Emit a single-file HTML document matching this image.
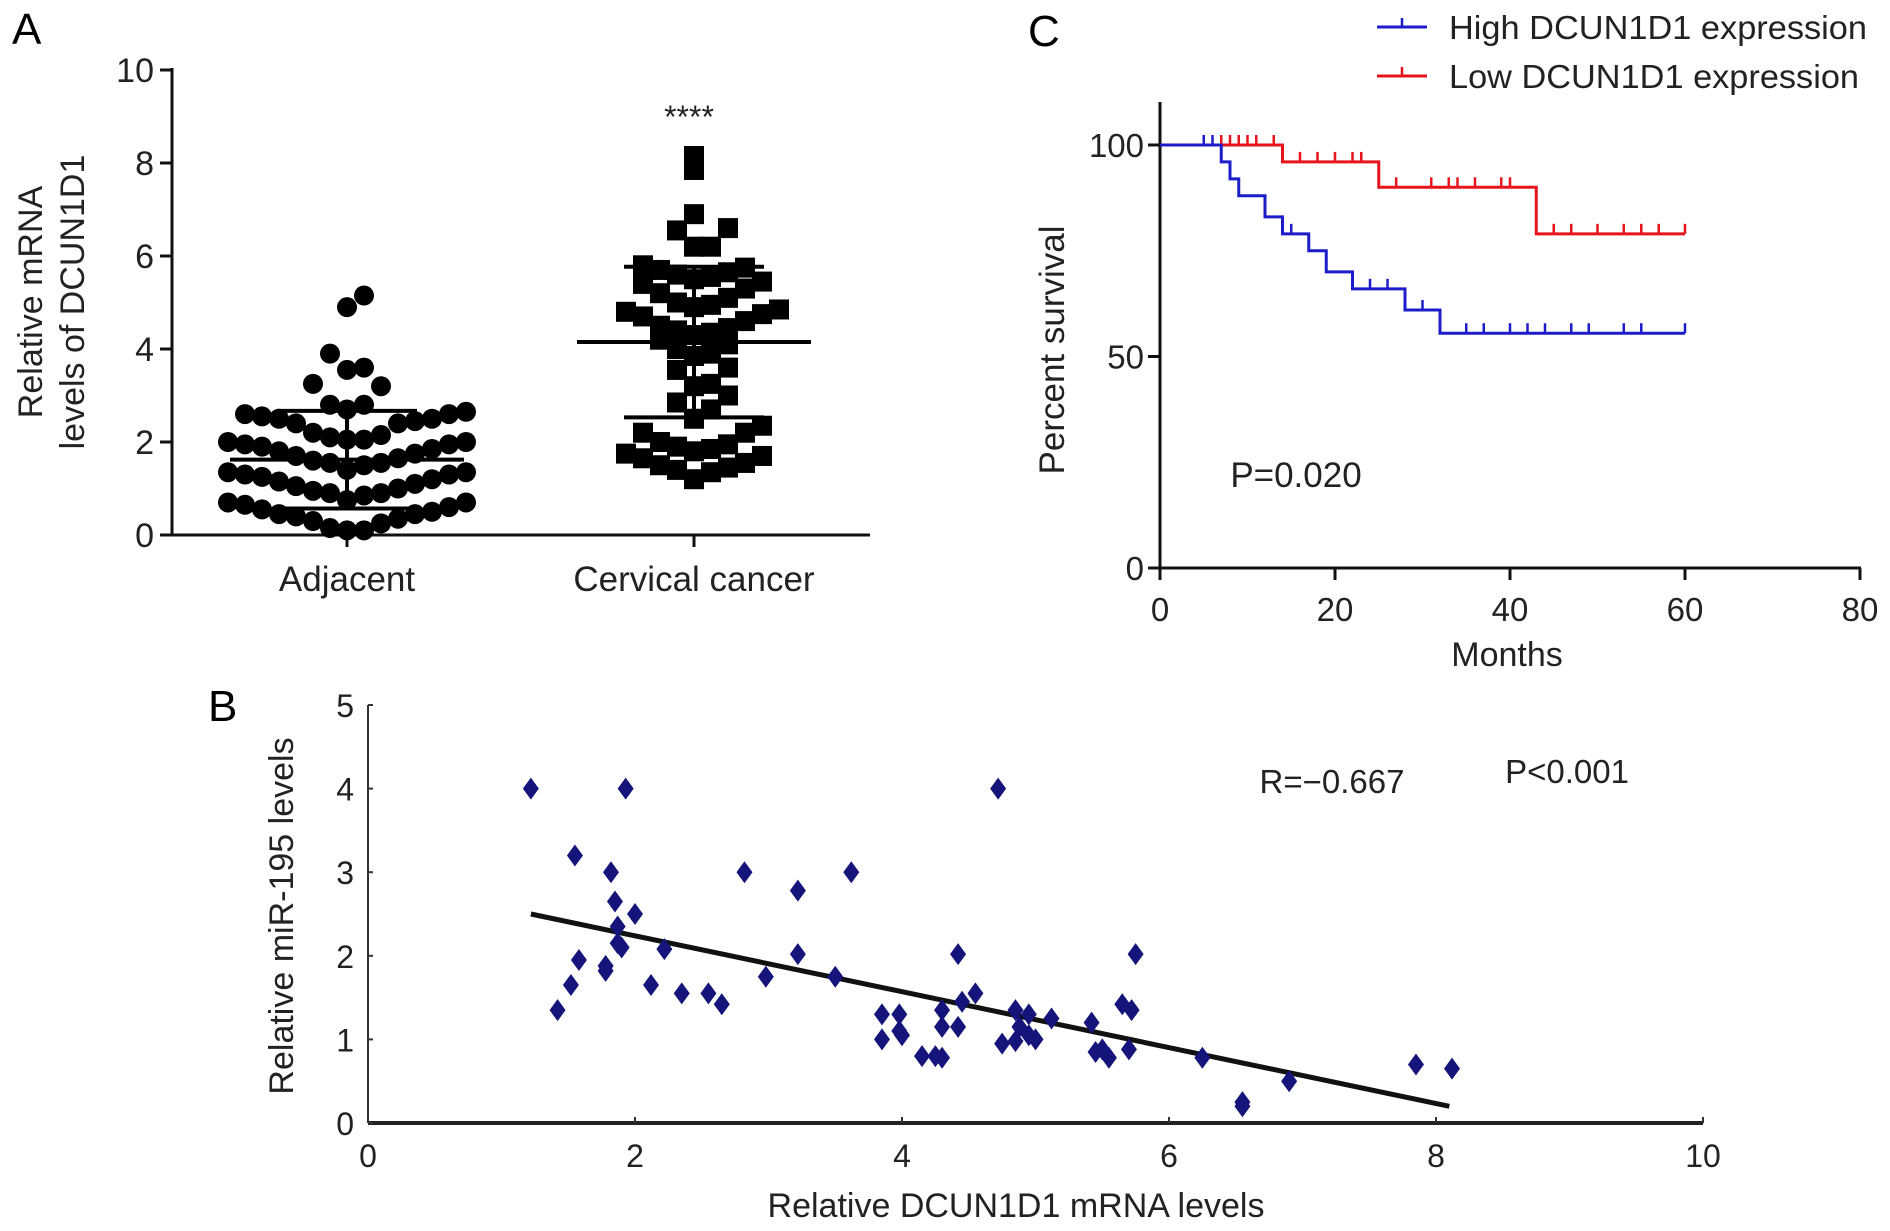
<!DOCTYPE html>
<html><head><meta charset="utf-8"><style>
html,body{margin:0;padding:0;background:#fff;}
svg{display:block;font-family:"Liberation Sans",Arial,sans-serif;}
</style></head><body>
<svg id="fig" width="1890" height="1231" viewBox="0 0 1890 1231" xmlns="http://www.w3.org/2000/svg">
<g id="pA"></g>
<g id="pC"></g>
<g id="pB"></g>
</svg>
<script>
// ---------- Panel A data ----------
const aCategories = ["Adjacent", "Cervical cancer"];
const aTicks = [0, 2, 4, 6, 8, 10];
const adjacentValues = [5.15,4.9,3.9,3.6,3.55,3.25,3.2,
 2.8,2.8,2.7,2.65,2.6,2.6,2.55,2.5,2.5,2.45,2.4,2.4,2.2,2.15,2.1,2.05,
 2.05,2.0,2.0,1.95,1.95,1.9,1.85,1.8,1.75,1.7,1.65,1.6,1.55,1.55,1.5,
 1.4,1.35,1.35,1.3,1.3,1.25,1.2,1.15,1.1,1.05,1.0,0.95,0.9,0.9,0.85,
 0.75,0.7,0.7,0.65,0.6,0.55,0.5,0.45,0.45,0.4,0.35,0.3,0.25,0.15,0.1,0.1];
const cancerValues = [8.15,7.85,6.9,6.6,6.55,6.2,6.2,
 5.8,5.75,5.7,5.65,5.6,5.55,5.5,5.45,5.4,5.3,5.2,5.1,
 5.0,4.95,4.9,4.85,4.8,4.75,4.7,4.6,4.5,
 4.45,4.4,4.35,4.3,4.2,4.1,4.0,3.9,3.85,3.6,3.55,
 3.25,3.2,3.0,2.85,2.7,2.5,
 2.35,2.2,2.2,2.0,1.95,1.9,1.85,1.8,1.75,1.7,1.65,1.55,1.5,1.45,1.4,1.35,1.2];
const aMeans = [1.62, 4.15];
const aSD = [1.05, 1.62];

// ---------- Panel C data ----------
const cXTicks = [0, 20, 40, 60, 80];
const cYTicks = [0, 50, 100];
const highSteps = [[0,100],[7,96],[8,92],[9,88],[12,83],[14,79],[17,75],[19,70],[22,66],[28,61],[32,55.5],[60,55.5]];
const highCensor = [[5,100],[6,100],[15,79],[24,66],[26,66],[30,61],[35,55.5],[37,55.5],[40,55.5],[42,55.5],[44,55.5],[47,55.5],[49,55.5],[53,55.5],[55,55.5],[60,55.5]];
const lowSteps = [[0,100],[14,96],[25,90],[43,79],[60,79]];
const lowCensor = [[7,100],[8,100],[9,100],[10,100],[11,100],[13,100],[16,96],[18,96],[20,96],[22,96],[23,96],[27,90],[31,90],[33,90],[34,90],[36,90],[39,90],[40,90],[45,79],[47,79],[50,79],[53,79],[55,79],[57,79],[60,79]];

// ---------- Panel B data ----------
const bXTicks = [0, 2, 4, 6, 8, 10];
const bYTicks = [0, 1, 2, 3, 4, 5];
const bX = [1.22,1.93,4.72,1.55,1.82,2.82,3.62,3.22,1.85,2.0,1.87,1.9,1.87,2.22,3.22,4.42,5.75,1.58,1.78,1.78,2.12,1.52,2.98,3.5,2.35,2.55,2.65,1.42,3.85,3.98,4.3,4.45,4.55,4.85,4.95,5.12,5.42,5.65,5.72,3.85,3.98,4.0,4.15,4.25,4.3,4.3,4.42,4.75,4.85,4.88,4.95,5.0,5.5,5.45,5.55,5.7,6.25,6.55,6.55,6.9,7.85,8.12];
const bY = [4.0,4.0,4.0,3.2,3.0,3.0,3.0,2.78,2.65,2.5,2.35,2.1,2.15,2.08,2.02,2.02,2.02,1.95,1.88,1.82,1.65,1.65,1.75,1.75,1.55,1.55,1.42,1.35,1.3,1.3,1.35,1.45,1.55,1.35,1.3,1.25,1.2,1.42,1.35,1.0,1.1,1.05,0.8,0.8,0.78,1.15,1.15,0.95,0.98,1.15,1.05,1.0,0.88,0.85,0.78,0.88,0.78,0.25,0.2,0.5,0.7,0.65];
const fitLine = [[1.22,2.5],[8.1,0.2]];

const NS = "http://www.w3.org/2000/svg";
function mk(parent, tag, attrs, text){
  const e = document.createElementNS(NS, tag);
  for (const k in attrs) e.setAttribute(k, attrs[k]);
  if (text !== undefined) e.textContent = text;
  parent.appendChild(e);
  return e;
}

// ===== Panel A =====
(function(){
  const g = document.getElementById('pA');
  const X0 = 172, Y0 = 535, Y10 = 70, XEND = 870;
  const ya = v => Y0 + (Y10 - Y0) * v / 10;
  const cx = [347, 694];
  let t = mk(g,'text',{x:12,y:44,'font-size':44});
  t.textContent='A';
  
  
  let ax = mk(g,'line',{x1:X0,y1:Y10-2,x2:X0,y2:Y0+1,stroke:'#111','stroke-width':3});
  
  
  let xa = mk(g,'line',{x1:X0-12,y1:Y0,x2:XEND,y2:Y0,stroke:'#111','stroke-width':3});
  
  
  aTicks.forEach(v=>{
    mk(g,'line',{x1:X0-12,y1:ya(v),x2:X0,y2:ya(v),stroke:'#111','stroke-width':3});
    const l = mk(g,'text',{x:X0-18,y:ya(v)+12,'font-size':34,'text-anchor':'end',fill:'#222'}, String(v));
    
    
  });
  aCategories.forEach((c,i)=>{
    mk(g,'line',{x1:cx[i],y1:Y0,x2:cx[i],y2:Y0+12,stroke:'#111','stroke-width':3});
    const l = mk(g,'text',{x:cx[i],y:591,'font-size':35,'text-anchor':'middle',fill:'#222'}, c);
    
    
  });
  const yt = mk(g,'text',{'font-size':34,'text-anchor':'middle',fill:'#222',transform:'rotate(-90)'});
  
  
  mk(yt,'tspan',{x:-302,y:42},'Relative mRNA');
  mk(yt,'tspan',{x:-302,y:84},'levels of DCUN1D1');
  const st = mk(g,'text',{x:689,y:128,'font-size':32,'text-anchor':'middle',fill:'#222'},'****');
  
  

  // row-binned swarm (GraphPad-like): within each value band, lowest at centre, higher outward
  function swarm(vals, center, d, shape, name, base, binH){
    const bins = {};
    vals.forEach(v=>{ const b = Math.floor((v-base)/binH); (bins[b]=bins[b]||[]).push(v); });
    Object.keys(bins).forEach(b=>{
      const arr = bins[b].sort((a,b2)=>a-b2);
      arr.forEach((v,k)=>{
        const off = (k===0?0:Math.ceil(k/2)*(k%2?1:-1))*d*0.85;
        const x = center + off, y = ya(v);
        let m;
        if (shape==='circle') m = mk(g,'circle',{cx:x,cy:y,r:d/2,fill:'#000'});
        else m = mk(g,'rect',{x:x-d/2,y:y-d/2,width:d,height:d,fill:'#000'});
        
        
      });
    });
  }
  swarm(adjacentValues, cx[0], 20, 'circle', 'adjacent-point', 0.05, 0.66);
  swarm(cancerValues, cx[1], 20, 'rect', 'cancer-point', 1.15, 0.62);
  [0,1].forEach(i=>{
    const m = mk(g,'line',{x1:cx[i]-117,y1:ya(aMeans[i]),x2:cx[i]+117,y2:ya(aMeans[i]),stroke:'#000','stroke-width':4});
    
    
    const v = mk(g,'line',{x1:cx[i],y1:ya(aMeans[i]+aSD[i]),x2:cx[i],y2:ya(aMeans[i]-aSD[i]),stroke:'#000','stroke-width':4});
    
    
    [aMeans[i]+aSD[i], aMeans[i]-aSD[i]].forEach(s=>{
      const c = mk(g,'line',{x1:cx[i]-70,y1:ya(s),x2:cx[i]+70,y2:ya(s),stroke:'#000','stroke-width':4});
      
      
    });
  });
})();

// ===== Panel C =====
(function(){
  const g = document.getElementById('pC');
  const X0 = 1160, X80 = 1860, Y0 = 568, Y100 = 145;
  const xs = v => X0 + (X80-X0)*v/80;
  const ys = v => Y0 + (Y100-Y0)*v/100;
  let t = mk(g,'text',{x:1028,y:46,'font-size':44},'C');
  
  
  let ax = mk(g,'line',{x1:X0,y1:102,x2:X0,y2:Y0+1,stroke:'#111','stroke-width':3});
  
  
  let xa = mk(g,'line',{x1:X0-12,y1:Y0,x2:X80+1,y2:Y0,stroke:'#111','stroke-width':3});
  
  
  cYTicks.forEach(v=>{
    mk(g,'line',{x1:X0-12,y1:ys(v),x2:X0,y2:ys(v),stroke:'#111','stroke-width':3});
    const l = mk(g,'text',{x:X0-16,y:ys(v)+12,'font-size':33,'text-anchor':'end',fill:'#222'}, String(v));
    
    
  });
  cXTicks.forEach(v=>{
    mk(g,'line',{x1:xs(v),y1:Y0,x2:xs(v),y2:Y0+12,stroke:'#111','stroke-width':3});
    const l = mk(g,'text',{x:xs(v),y:621,'font-size':33,'text-anchor':'middle',fill:'#222'}, String(v));
    
    
  });
  const xt = mk(g,'text',{x:1507,y:666,'font-size':34,'text-anchor':'middle',fill:'#222'},'Months');
  
  
  const yt = mk(g,'text',{x:-350,y:1064,'font-size':35,'text-anchor':'middle',fill:'#222',transform:'rotate(-90)'},'Percent survival');
  
  
  const pv = mk(g,'text',{x:1296,y:487,'font-size':35,'text-anchor':'middle',fill:'#222'},'P=0.020');
  
  

  function km(steps, cens, color, name){
    let d = '';
    steps.forEach((s,i)=>{
      if (i===0) d += 'M'+xs(s[0])+','+ys(s[1]);
      else { d += ' H'+xs(s[0])+' V'+ys(s[1]); }
    });
    const p = mk(g,'path',{d:d,fill:'none',stroke:color,'stroke-width':3});
    
    
    cens.forEach(c=>{
      const m = mk(g,'line',{x1:xs(c[0]),y1:ys(c[1]),x2:xs(c[0]),y2:ys(c[1])-10,stroke:color,'stroke-width':2.5});
      
      
    });
  }
  km(lowSteps, lowCensor, '#e8141c', 'low-expression');
  km(highSteps, highCensor, '#1c1cc8', 'high-expression');

  [['High DCUN1D1 expression','#1c1cc8',27,418],['Low DCUN1D1 expression','#e8141c',76,410]].forEach(e=>{
    const lg = mk(g,'g',{});
    
    
    mk(lg,'line',{x1:1377,y1:e[2],x2:1427,y2:e[2],stroke:e[1],'stroke-width':3});
    mk(lg,'line',{x1:1402,y1:e[2],x2:1402,y2:e[2]-9,stroke:e[1],'stroke-width':2.5});
    mk(lg,'text',{x:1449,y:e[2]+12,'font-size':33,fill:'#222',textLength:e[3],lengthAdjust:'spacingAndGlyphs'},e[0]);
  });
})();

// ===== Panel B =====
(function(){
  const g = document.getElementById('pB');
  const X0 = 368, X10 = 1703, Y0 = 1123, Y5 = 705;
  const xs = v => X0 + (X10-X0)*v/10;
  const ys = v => Y0 + (Y5-Y0)*v/5;
  let t = mk(g,'text',{x:208,y:721,'font-size':44},'B');
  
  
  let ax = mk(g,'line',{x1:X0,y1:Y5,x2:X0,y2:Y0,stroke:'#333','stroke-width':2});
  
  
  let xa = mk(g,'line',{x1:X0,y1:Y0,x2:X10,y2:Y0,stroke:'#222','stroke-width':4});
  
  
  bYTicks.forEach(v=>{
    mk(g,'line',{x1:X0,y1:ys(v),x2:X0+5,y2:ys(v),stroke:'#333','stroke-width':2});
    const l = mk(g,'text',{x:X0-14,y:ys(v)+12,'font-size':32,'text-anchor':'end',fill:'#222'}, String(v));
    
    
  });
  bXTicks.forEach(v=>{
    mk(g,'line',{x1:xs(v),y1:Y0,x2:xs(v),y2:Y0-6,stroke:'#333','stroke-width':2});
    const l = mk(g,'text',{x:xs(v),y:1167,'font-size':32,'text-anchor':'middle',fill:'#222'}, String(v));
    
    
  });
  const xt = mk(g,'text',{x:1016,y:1217,'font-size':34,'text-anchor':'middle',fill:'#222'},'Relative DCUN1D1 mRNA levels');
  
  
  const yt = mk(g,'text',{x:-916,y:293,'font-size':34,'text-anchor':'middle',fill:'#222',transform:'rotate(-90)'},'Relative miR-195 levels');
  
  
  const r = mk(g,'text',{x:1332,y:793,'font-size':33,'text-anchor':'middle',fill:'#222'},'R=\u22120.667');
  
  
  const p = mk(g,'text',{x:1567,y:783,'font-size':33,'text-anchor':'middle',fill:'#222'},'P<0.001');
  
  
  const fl = mk(g,'line',{x1:xs(fitLine[0][0]),y1:ys(fitLine[0][1]),x2:xs(fitLine[1][0]),y2:ys(fitLine[1][1]),stroke:'#111','stroke-width':5});
  
  
  bX.forEach((xv,i)=>{
    const x = xs(xv), y = ys(bY[i]);
    const d = mk(g,'polygon',{points:(x)+','+(y-11)+' '+(x+8)+','+y+' '+x+','+(y+11)+' '+(x-8)+','+y,fill:'#14147a'});
    
    
  });
})();
</script>
</body></html>
